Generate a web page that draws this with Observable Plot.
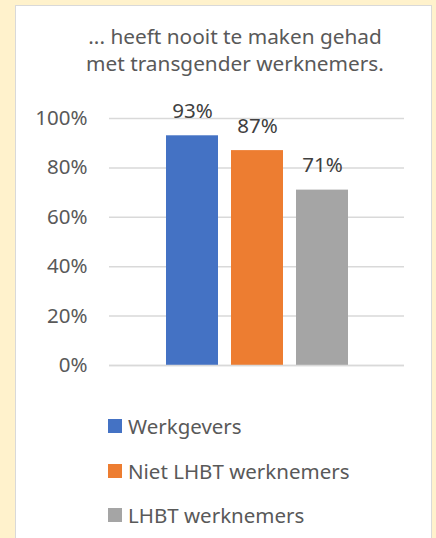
<!DOCTYPE html>
<html>
<head>
<meta charset="utf-8">
<script src="https://cdn.jsdelivr.net/npm/d3@7"></script>
<script src="https://cdn.jsdelivr.net/npm/@observablehq/plot@0.6"></script>
<style>
  html, body { margin: 0; padding: 0; }
  body { width: 436px; height: 538px; background: #FFF2CC; position: relative; overflow: hidden; font-family: "Noto Sans", sans-serif; }
  #panel { position: absolute; left: 15px; top: 5px; width: 415px; height: 540px; background: #fff; border: 1px solid #D9D9D9; }
  #title { position: absolute; left: 35px; width: 400px; top: 23px; text-align: center; color: #595959; font-size: 20.8px; line-height: 27px; }
  #chart { position: absolute; left: 0; top: 90px; }
  #legend { position: absolute; left: 108px; top: 404px; color: #595959; font-size: 20.5px; }
  .item { display: flex; align-items: center; height: 44.5px; }
  .sw { width: 14px; height: 14px; margin-right: 6px; }
</style>
</head>
<body>
<div id="panel"></div>
<div id="title">... heeft nooit te maken gehad<br>met transgender werknemers.</div>
<div id="chart"></div>
<div id="legend"></div>
<script>
const series = ["Werkgevers", "Niet LHBT werknemers", "LHBT werknemers"];
const values = [0.93, 0.87, 0.71];
const yTicks = [0, 0.2, 0.4, 0.6, 0.8, 1.0];
const palette = ["#4472C4", "#ED7D31", "#A5A5A5"];

const data = series.map((s, i) => ({series: s, value: values[i]}));

const chart = Plot.plot({
  width: 436,
  height: 290,
  marginLeft: 109,
  marginRight: 32,
  marginTop: 28,
  marginBottom: 15,
  style: {fontFamily: "Noto Sans", fontSize: "20px", color: "#595959", background: "transparent"},
  x: {domain: series, paddingInner: 0.2, paddingOuter: 0.869, axis: null},
  y: {domain: [0, 1], ticks: yTicks, tickFormat: d => Math.round(d * 100) + "%"},
  color: {domain: series, range: palette},
  marks: [
    Plot.ruleY(yTicks, {stroke: "#D9D9D9", strokeWidth: 1.5}),
    Plot.axisY({ticks: yTicks, tickSize: 0, tickPadding: 22, tickFormat: d => Math.round(d * 100) + "%", fill: "#595959", fontSize: 20.5, label: null}),
    Plot.barY(data, {x: "series", y: "value", fill: "series"}),
    Plot.ruleY([0], {stroke: "#D9D9D9", strokeWidth: 1.5}),
    Plot.text(data, {x: "series", y: "value", text: d => Math.round(d.value * 100) + "%", dy: -18, lineAnchor: "bottom", fill: "#404040", fontSize: 20.5})
  ]
});
document.getElementById("chart").appendChild(chart);

const legend = document.getElementById("legend");
series.forEach((s, i) => {
  const item = document.createElement("div");
  item.className = "item";
  const sw = document.createElement("span");
  sw.className = "sw";
  sw.style.background = palette[i];
  const label = document.createElement("span");
  label.textContent = s;
  item.appendChild(sw);
  item.appendChild(label);
  legend.appendChild(item);
});
</script>
</body>
</html>
